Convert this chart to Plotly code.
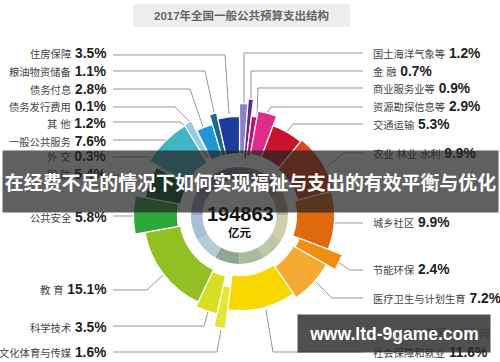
import plotly.graph_objects as go

W, H = 500, 362

# ---------------- data (clockwise from 12 o'clock) ----------------
categories = ["国土海洋气象等", "金 融", "商业服务业等", "资源勘探信息等", "交通运输",
              "农业 林业 水利", "城乡社区", "节能环保", "医疗卫生与计划生育", "社会保障和就业",
              "文化体育与传媒", "科学技术", "教 育", "公共安全", "国 防", "外 交",
              "一般公共服务", "其 他", "债务发行费用", "债务付息", "粮油物资储备", "住房保障"]
values = [1.2, 0.7, 0.9, 2.9, 5.3, 9.9, 9.9, 2.4, 7.2, 11.6,
          1.6, 3.5, 15.1, 5.8, 5.4, 0.3, 7.6, 1.2, 0.1, 2.8, 1.1, 3.5]
value_labels = [f"{v:.1f}%" for v in values]
total_label = "194863"
total_unit = "亿元"
title_text = "2017年全国一般公共预算支出结构"
banner_text = "在经费不足的情况下如何实现福祉与支出的有效平衡与优化"
watermark_text = "www.ltd-9game.com"
source_text = "资料来源：新华网"

# ---------------- styles ----------------
colors = ["#8a80c2", "#5b2a8c", "#c0126c", "#e22a8c", "#c8122e",
          "#e4421c", "#e0680e", "#f08e12", "#f6aa32", "#f8d800",
          "#e6e632", "#d6df22", "#92c023", "#2fa83a", "#0c5c2c", "#1a6a52",
          "#42b4c4", "#94cbe8", "#5fa2d2", "#2098d8", "#1b6a92", "#1c3c9c"]
outer_r = [112, 117, 100, 106, 96, 98, 95, 110, 100, 95,
           114, 101, 96, 106, 96, 95, 105, 106, 100, 95, 105, 99]
inner_r = [62, 57, 60, 62, 62, 60, 57, 64, 62, 60,
           72, 62, 60, 62, 60, 62, 62, 66, 62, 62, 62, 62]

# label placement (pixel y, side)
label_side = ["R", "R", "R", "R", "R", "R", "R", "R", "R", "R",
              "L", "L", "L", "L", "L", "L", "L", "L", "L", "L", "L", "L"]
label_y = [53, 71, 88, 106, 124.5, 153, 222, 269.5, 298, 352,
           352, 327, 289, 217, 175, 157, 141, 123, 107, 89, 71.5, 54]
# leader line paths in pixels
leaders = [
    [(363, 53), (244, 53), (244, 104)],
    [(363, 71), (251, 71), (251, 99)],
    [(363, 88), (258, 88), (257, 117)],
    [(363, 107), (271, 107), (266, 114)],
    [(363, 124), (293, 124), (285, 134)],
    [(363, 153), (344, 153), (328, 166)],
    [(363, 223), (333, 223)],
    [(363, 270), (350, 270), (338, 262)],
    [(363, 298), (332, 298), (316, 282)],
    [(363, 352), (273, 352), (266, 310)],
    [(113, 352), (217, 352), (221, 330)],
    [(113, 326), (204, 326), (208, 312)],
    [(113, 290), (147, 290), (163, 275)],
    [(113, 216), (133, 216)],
    [(113, 175), (142, 175), (150, 180)],
    [(113, 157), (150, 157), (160, 166)],
    [(113, 140), (168, 140), (176, 150)],
    [(113, 122), (180, 122), (188, 128)],
    [(113, 107), (175, 107), (195, 127)],
    [(113, 89), (190, 89), (203, 127)],
    [(113, 71), (205, 71), (214, 112)],
    [(113, 55), (225, 55), (229, 114)],
]

ring_colors = ["#8c8c9c", "#a09888", "#b8b098", "#cfcfae", "#bfc8a8", "#a8bc9c",
               "#8fa893", "#b8ccd8", "#a6c0d4", "#9ea2c8", "#8e88b0", "#7d7890"]

CX, CY, RMAX = 239.5, 215.5, 120


def px(x, y):
    return x / W, 1 - y / H


total = sum(values)
theta, width = [], []
acc = 0.0
for v in values:
    w = v / total * 360.0
    theta.append(acc + w / 2)
    width.append(w)
    acc += w

fig = go.Figure()

# decorative inner ring
n = len(ring_colors)
fig.add_trace(go.Barpolar(
    theta=[i * 360 / n + 180 / n for i in range(n)],
    width=[360 / n] * n,
    r=[11.5] * n, base=[37] * n,
    marker=dict(color=ring_colors, line=dict(width=0)),
    hoverinfo="skip", showlegend=False))

# main segments
fig.add_trace(go.Barpolar(
    theta=theta, width=width,
    r=[o - i for o, i in zip(outer_r, inner_r)], base=inner_r,
    marker=dict(color=colors, line=dict(color="white", width=1.2)),
    text=categories, hovertemplate="%{text}<extra></extra>", showlegend=False))

x0, y0 = px(CX - RMAX, CY + RMAX)
x1, y1 = px(CX + RMAX, CY - RMAX)

shapes = []
# title box
bx0, by0 = px(133, 27)
bx1, by1 = px(350, 4)
shapes.append(dict(type="rect", xref="paper", yref="paper", x0=bx0, y0=by0, x1=bx1, y1=by1,
                   fillcolor="#eeeeee", line=dict(width=0), layer="below"))
for pts in leaders:
    path = ""
    for k, (a, b) in enumerate(pts):
        xx, yy = px(a, b)
        path += ("M" if k == 0 else " L") + f" {xx:.5f},{yy:.5f}"
    shapes.append(dict(type="path", xref="paper", yref="paper", path=path,
                       line=dict(color="#8a8a8a", width=0.9), layer="below"))

FONT = "Liberation Sans, Arial, Noto Sans CJK SC, sans-serif"
annotations = []
for name, val, side, ly in zip(categories, value_labels, label_side, label_y):
    txt = (f"<span style='font-size:10.3px;color:#444444;font-weight:normal'>{name}</span>"
           f" <b>{val}</b>")
    if side == "L":
        ax, xa = 108, "right"
    else:
        ax, xa = 371, "left"
    xx, yy = px(ax, ly)
    annotations.append(dict(x=xx, y=yy, xref="paper", yref="paper", text=txt,
                            xanchor=xa, yanchor="middle", showarrow=False,
                            font=dict(family=FONT, size=13.8, color="#222222")))

tx, ty = px(241.5, 15.5)
annotations.append(dict(x=tx, y=ty, xref="paper", yref="paper", text=f"<b>{title_text}</b>",
                        showarrow=False, xanchor="center", yanchor="middle",
                        font=dict(family=FONT, size=11.5, color="#666666")))

cx, cy = px(240, 214)
annotations.append(dict(x=cx, y=cy, xref="paper", yref="paper", text=f"<b>{total_label}</b>",
                        showarrow=False, xanchor="center", yanchor="middle",
                        font=dict(family=FONT, size=20, color="#111111")))
cx, cy = px(240, 232)
annotations.append(dict(x=cx, y=cy, xref="paper", yref="paper", text=f"<b>{total_unit}</b>",
                        showarrow=False, xanchor="center", yanchor="middle",
                        font=dict(family=FONT, size=11.5, color="#111111")))

sx, sy = px(446, 333)
annotations.append(dict(x=sx, y=sy, xref="paper", yref="paper", text=source_text,
                        showarrow=False, xanchor="center", yanchor="middle",
                        font=dict(family=FONT, size=11, color="#888888")))

wx, wy = px(394, 333.5)
annotations.append(dict(x=wx, y=wy, xref="paper", yref="paper", text=f"<b>{watermark_text}</b>",
                        showarrow=False, xanchor="center", yanchor="middle",
                        width=192, height=37, borderpad=0, bgcolor="rgba(40,40,40,0.82)",
                        font=dict(family=FONT, size=17.5, color="white")))

nx, ny = px(250.5, 181.5)
annotations.append(dict(x=nx, y=ny, xref="paper", yref="paper", text=f"<b>{banner_text}</b>",
                        showarrow=False, xanchor="center", yanchor="middle",
                        width=495, height=61, borderpad=0, bgcolor="rgba(35,35,35,0.72)",
                        font=dict(family="Noto Sans CJK SC, sans-serif", size=18.9, color="white")))

fig.update_layout(
    width=W, height=H,
    margin=dict(l=0, r=0, t=0, b=0),
    paper_bgcolor="white",
    polar=dict(
        domain=dict(x=[x0, x1], y=[y0, y1]),
        bgcolor="rgba(0,0,0,0)",
        barmode="overlay",
        radialaxis=dict(visible=False, range=[0, RMAX]),
        angularaxis=dict(visible=False, direction="clockwise", rotation=90),
    ),
    shapes=shapes,
    annotations=annotations,
    showlegend=False,
)

fig.write_html("out.html", config={"displayModeBar": False},
               post_script="document.body.style.margin='0';document.body.style.overflow='hidden';")
